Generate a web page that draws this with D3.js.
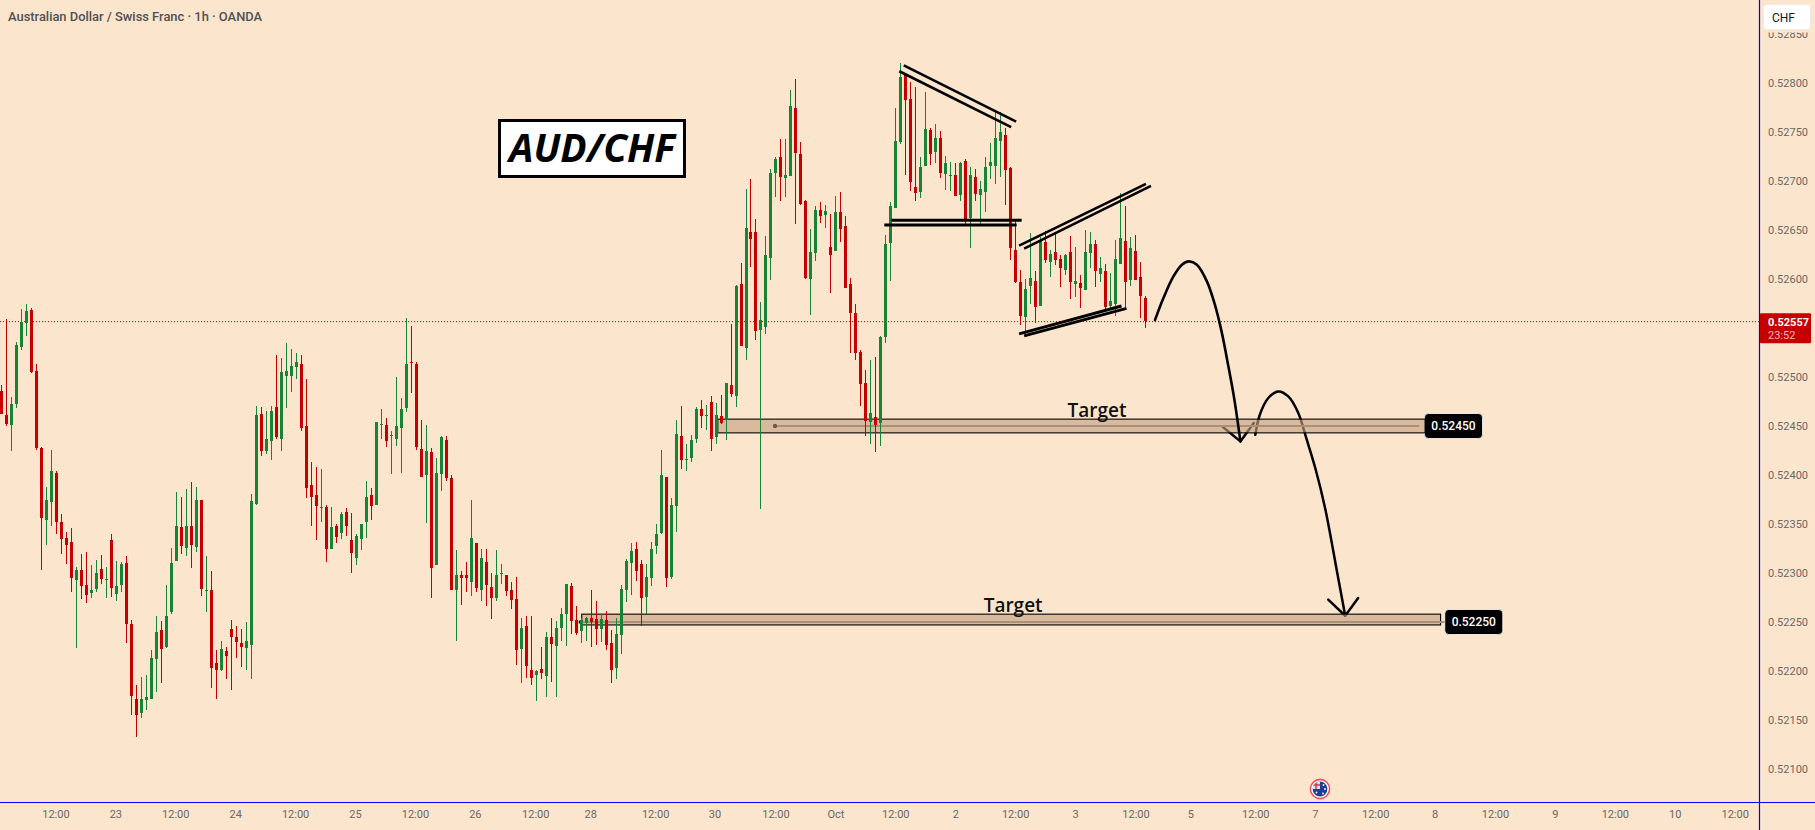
<!DOCTYPE html>
<html>
<head>
<meta charset="utf-8">
<title>AUD/CHF 1h</title>
<script src="https://cdn.jsdelivr.net/npm/d3@7/dist/d3.min.js"></script>
<style>
html,body{margin:0;padding:0;background:#fce5cd;overflow:hidden}
svg{display:block}
text{font-family:Roboto,"Liberation Sans",sans-serif}
</style>
</head>
<body>
<svg id="chart" width="1815" height="830"></svg>
<script>
// Hourly candles, prices in points (1 point = 0.00001 CHF)
const opens = [
52486,52461,52451,52472,52531,52555,52568,52506,52428,52354,
52372,52402,52352,52336,52332,52293,52303,52288,52280,52284,
52304,52293,52334,52279,52288,52310,52248,52171,52157,52170,
52171,52212,52242,52224,52260,52312,52347,52326,52348,52327,
52375,52282,52283,52208,52201,52220,52243,52235,52229,52223,
52227,52370,52462,52425,52435,52469,52437,52501,52501,52510,
52513,52450,52390,52380,52366,52367,52324,52348,52341,52362,
52334,52315,52335,52352,52380,52369,52451,52451,52440,52437,
52448,52468,52515,52513,52427,52400,52423,52308,52401,52436,
52397,52283,52298,52298,52291,52331,52283,52311,52286,52275,
52299,52298,52283,52273,52222,52246,52201,52196,52202,52195,
52235,52226,52244,52258,52287,52252,52241,52249,52254,52253,
52243,52252,52229,52203,52237,52283,52310,52325,52309,52276,
52295,52328,52341,52398,52296,52368,52440,52415,52417,52437,
52467,52460,52475,52439,52460,52456,52492,52481,52595,52530,
52648,52648,52548,52551,52621,52708,52724,52703,52705,52774,
52728,52680,52600,52627,52670,52665,52633,52629,52668,52654,
52595,52565,52526,52494,52454,52459,52453,52541,52637,52672,
52740,52808,52784,52694,52689,52715,52752,52730,52744,52707,
52705,52706,52686,52720,52662,52704,52686,52689,52715,52715,
52741,52747,52713,52630,52597,52561,52593,52598,52572,52638,
52617,52628,52620,52609,52628,52595,52596,52589,52627,52636,
52605,52608,52572,52575,52615,52639,52599,52629,52602,52581];
const highs = [
52492,52559,52480,52536,52569,52574,52570,52513,52429,52388,
52426,52404,52360,52342,52346,52306,52319,52321,52308,52313,
52318,52306,52340,52312,52311,52317,52252,52186,52194,52196,
52221,52256,52251,52288,52326,52383,52378,52386,52393,52388,
52375,52317,52302,52221,52231,52225,52252,52246,52243,52250,
52381,52470,52469,52465,52470,52522,52519,52535,52529,52524,
52522,52498,52413,52408,52406,52369,52367,52350,52362,52366,
52361,52340,52350,52394,52387,52454,52467,52458,52445,52500,
52479,52560,52552,52515,52456,52451,52428,52417,52440,52440,
52400,52323,52302,52311,52375,52331,52325,52324,52300,52323,
52309,52298,52291,52296,52254,52256,52256,52201,52224,52240,
52254,52251,52264,52289,52290,52266,52254,52255,52283,52271,
52258,52261,52242,52254,52288,52314,52331,52332,52313,52309,
52332,52350,52426,52398,52377,52456,52470,52432,52441,52469,
52477,52471,52481,52473,52482,52494,52554,52594,52616,52692,
52702,52661,52577,52644,52712,52724,52743,52743,52793,52804,
52740,52681,52651,52674,52679,52676,52666,52685,52689,52664,
52601,52574,52528,52507,52517,52520,52542,52645,52679,52774,
52820,52808,52801,52796,52724,52791,52754,52758,52751,52726,
52719,52718,52719,52722,52714,52712,52700,52724,52739,52772,
52770,52754,52714,52660,52609,52600,52647,52608,52643,52649,
52630,52647,52624,52626,52644,52633,52604,52650,52648,52640,
52622,52615,52606,52640,52688,52674,52643,52645,52617,52583];
const lows = [
52462,52450,52424,52468,52528,52542,52504,52426,52303,52329,
52348,52340,52319,52309,52281,52223,52273,52269,52275,52281,
52289,52275,52276,52271,52281,52229,52155,52133,52152,52160,
52171,52179,52188,52223,52258,52312,52319,52317,52305,52321,
52277,52260,52183,52171,52200,52192,52181,52213,52204,52201,
52192,52369,52419,52421,52415,52437,52425,52468,52485,52498,
52445,52377,52348,52334,52352,52311,52324,52331,52335,52338,
52300,52308,52323,52336,52354,52369,52437,52429,52401,52430,
52402,52464,52484,52426,52398,52351,52275,52308,52384,52394,
52283,52231,52267,52281,52277,52281,52271,52266,52253,52271,
52289,52277,52263,52206,52188,52193,52186,52169,52192,52173,
52189,52173,52231,52226,52238,52237,52229,52231,52224,52227,
52230,52221,52188,52192,52217,52270,52278,52292,52246,52258,
52287,52319,52340,52286,52294,52342,52406,52404,52413,52433,
52448,52446,52425,52432,52452,52436,52480,52469,52532,52517,
52612,52538,52365,52544,52599,52684,52680,52684,52705,52656,
52676,52600,52563,52618,52657,52652,52586,52629,52638,52591,
52524,52517,52470,52440,52432,52423,52430,52535,52598,52672,
52738,52706,52690,52680,52683,52715,52716,52718,52703,52691,
52690,52685,52680,52655,52632,52680,52656,52668,52702,52697,
52704,52676,52619,52596,52553,52542,52574,52555,52572,52616,
52602,52614,52592,52604,52580,52582,52570,52589,52611,52592,
52597,52569,52570,52562,52615,52571,52593,52599,52560,52550];
const closes = [
52462,52452,52472,52533,52556,52567,52505,52428,52356,52374,
52404,52352,52335,52329,52295,52303,52287,52278,52283,52300,
52294,52294,52285,52287,52309,52248,52174,52155,52171,52173,
52213,52240,52222,52256,52310,52348,52328,52348,52329,52375,
52284,52283,52203,52201,52222,52215,52235,52230,52224,52231,
52373,52461,52425,52437,52465,52439,52505,52506,52511,52515,
52448,52387,52378,52368,52367,52324,52347,52337,52360,52348,
52320,52338,52350,52378,52368,52454,52452,52435,52441,52450,
52467,52513,52514,52429,52398,52425,52305,52402,52439,52397,
52283,52298,52295,52295,52336,52285,52315,52288,52274,52298,
52300,52282,52272,52221,52244,52205,52193,52200,52198,52235,
52228,52244,52258,52289,52251,52239,52252,52254,52250,52243,
52253,52227,52201,52238,52284,52312,52322,52302,52274,52296,
52325,52340,52400,52295,52369,52442,52415,52416,52436,52467,
52460,52461,52437,52461,52453,52494,52483,52593,52532,52652,
52641,52547,52558,52624,52708,52722,52704,52706,52777,52729,
52677,52601,52628,52670,52664,52669,52624,52668,52651,52591,
52565,52525,52493,52455,52463,52451,52541,52636,52674,52741,
52806,52783,52699,52688,52714,52753,52728,52744,52708,52718,
52706,52685,52718,52660,52706,52687,52692,52714,52719,52744,
52750,52711,52632,52597,52562,52590,52601,52571,52640,52619,
52626,52619,52611,52625,52597,52598,52591,52628,52636,52608,
52611,52571,52578,52620,52642,52597,52632,52599,52583,52557];

// Price axis levels, in points; the level under the last-price tag is left out
const priceTicks = [52100,52150,52200,52250,52300,52350,52400,52450,52500,52600,52650,52700,52750,52800,52850];

// Time axis: bar position of each label, and its text
const timeTickBars = [10.7,22.7,34.7,46.7,58.7,70.7,82.7,94.7,106.8,117.8,130.8,142.7,154.9,166.9,178.9,190.9,202.9,214.9,227,238,251,262.9,275,286.9,299,311,323,335,347];
const timeTickLabels = ["12:00","23","12:00","24","12:00","25","12:00","26","12:00","28","12:00","30","12:00","Oct","12:00","2","12:00","3","12:00","5","12:00","7","12:00","8","12:00","9","12:00","10","12:00"];

// Target zones: level, zone bounds in points, first bar, last bar, caption bar
const targets = [
  {level:52450, top:52457, bottom:52443, from:143.35, to:285, captionBar:219.3},
  {level:52250, top:52258, bottom:52247, from:116.1, to:288.1, captionBar:202.5}
];
const targetLabel = "Target";

// Hand-drawn pattern lines, as [bar, price] pairs
const trendLines = [
  {w:2.6, pts:[[180.6,52818],[203.1,52760.5]]},
  {w:2.6, pts:[[179.7,52812],[202.1,52755]]},
  {w:3, pts:[[178.1,52660],[204.2,52660]]},
  {w:3, pts:[[176.7,52655],[203.2,52655]]},
  {w:2.6, pts:[[203.7,52634],[229.1,52697]]},
  {w:2.6, pts:[[204.7,52631],[230.1,52695]]},
  {w:3, pts:[[203.7,52544],[224.2,52572.5]]},
  {w:3, pts:[[204.7,52542],[225.2,52570]]}
];
// Projected path: first leg runs above the zone, the rest below it
const legOne = [[230.9,52558],[232.6,52580.6],[234.6,52602.6],[236.3,52614.6],[237.7,52618],[239.3,52614.6],[241.3,52597.6],[242.9,52573.8],[244.3,52545],[245.6,52511],[246.7,52480.2],[247.6,52449.6],[248,52434.3]];
const arrowOne = [[244.5,52449],[248,52434.3],[250.7,52453]];
const legTwo = [[251,52441],[251.9,52461.5],[253.6,52478.6],[255.6,52485.3],[257.6,52480.2],[259.6,52463.3],[261.3,52436],[263.1,52405.4],[265,52365.6],[267.4,52300.3],[269,52256.4]];
const arrowTwo = [[265.6,52272.8],[269,52256.4],[271.6,52274.5]];

const headerText = "Australian Dollar / Swiss Franc · 1h · OANDA";
const titleText = "AUD/CHF";
const unitText = "CHF";
const countdownText = "23:52";

const colors = {bg:"#fce5cd", up:"#158434", down:"#c60000", axis:"#0000ff", tick:"#6b6763"};

const svg = d3.select("#chart");
svg.append("rect").attr("width",1815).attr("height",830).attr("fill",colors.bg);

const x = d3.scaleLinear().domain([0,229]).range([1.995,1145.47]);
const y = d3.scaleLinear().domain([52500,52100]).range([377,769]);
const fmt = p => (p/1e5).toFixed(5);
const px = b => Math.floor(x(b));
const py = p => Math.round(y(p));
const lineGen = d3.line().x(d=>x(d[0])).y(d=>y(d[1]));
const curveGen = d3.line().x(d=>x(d[0])).y(d=>y(d[1])).curve(d3.curveCatmullRom.alpha(.5));
const lastClose = closes[closes.length-1];

// Last price line
svg.append("line").attr("x1",0).attr("x2",1759).attr("y1",y(lastClose)+.5).attr("y2",y(lastClose)+.5)
  .attr("stroke",colors.down).attr("stroke-width",1).attr("stroke-dasharray","1 2");

// Second leg of the path and arrowheads sit under the translucent zones
const strokeBlack = sel => sel.attr("fill","none").attr("stroke","#000").attr("stroke-linecap","round").attr("stroke-linejoin","round");
svg.append("path").attr("d",curveGen(legTwo)).attr("stroke-width",2.5).call(strokeBlack);
svg.append("path").attr("d",lineGen(arrowOne)).attr("stroke-width",2.5).call(strokeBlack);
svg.append("path").attr("d",lineGen(arrowTwo)).attr("stroke-width",2.5).call(strokeBlack);

// Level tags go below the zones so the first zone's end tints its tag
const tag = (cx0, level, w) => {
  const g = svg.append("g");
  g.append("rect").attr("x",cx0).attr("y",y(level)-12.5).attr("width",w).attr("height",25).attr("rx",4)
    .attr("fill","#000").attr("stroke","#fff").attr("stroke-width",.8);
  g.append("text").attr("x",cx0+w/2).attr("y",y(level)+4.2).attr("text-anchor","middle")
    .attr("fill","#fff").attr("font-size",12).attr("font-weight",500).text(fmt(level));
};
tag(x(targets[0].to)-.6, targets[0].level, 58);
tag(x(targets[1].to)+4.2, targets[1].level, 58);

// Zones
svg.append("g").selectAll("rect").data(targets).join("rect")
  .attr("x",d=>x(d.from)).attr("width",d=>x(d.to)-x(d.from))
  .attr("y",d=>y(d.top)).attr("height",d=>y(d.bottom)-y(d.top))
  .attr("fill","rgba(197,160,127,.62)").attr("stroke","#000").attr("stroke-width",1.1);

// Zone centre lines with their handles
svg.append("line").attr("x1",776).attr("x2",x(targets[0].to)-6).attr("y1",y(targets[0].level)).attr("y2",y(targets[0].level))
  .attr("stroke","#a8917a").attr("stroke-width",2);
svg.append("circle").attr("cx",775).attr("cy",y(targets[0].level)).attr("r",2.2).attr("fill","#6d5a49");
svg.append("line").attr("x1",x(targets[1].from)).attr("x2",x(targets[1].to)+4).attr("y1",y(targets[1].level)).attr("y2",y(targets[1].level))
  .attr("stroke","#a8917a").attr("stroke-width",2);
svg.append("rect").attr("x",x(targets[1].from)-3).attr("y",y(targets[1].level)-1.5).attr("width",3).attr("height",3).attr("fill","#111");

// Candles
const bars = d3.range(closes.length);
const colorOf = i => closes[i] >= opens[i] ? colors.up : colors.down;
const candles = svg.append("g").attr("shape-rendering","crispEdges");
candles.selectAll("rect.wick").data(bars).join("rect").attr("class","wick")
  .attr("x",i=>px(i)).attr("width",1)
  .attr("y",i=>py(highs[i])).attr("height",i=>Math.max(1,py(lows[i])-py(highs[i])))
  .attr("fill",colorOf);
candles.selectAll("rect.body").data(bars).join("rect").attr("class","body")
  .attr("x",i=>px(i)-1).attr("width",3)
  .attr("y",i=>py(Math.max(opens[i],closes[i])))
  .attr("height",i=>Math.max(1,py(Math.min(opens[i],closes[i]))-py(Math.max(opens[i],closes[i]))))
  .attr("fill",colorOf);

// Pattern lines and first leg
svg.append("g").selectAll("path").data(trendLines).join("path")
  .attr("d",d=>lineGen(d.pts)).attr("stroke-width",d=>d.w).call(strokeBlack).attr("stroke-linecap","butt");
svg.append("path").attr("d",curveGen(legOne)).attr("stroke-width",2.6).call(strokeBlack);

// Target captions
svg.append("g").selectAll("text").data(targets).join("text")
  .attr("x",d=>x(d.captionBar)).attr("y",d=>y(d.top)-2)
  .attr("text-anchor","middle").attr("fill","#111")
  .style("font-family","'Open Sans',sans-serif").attr("font-size",19).attr("font-weight",600).text(targetLabel);

// Title box
svg.append("rect").attr("x",499.5).attr("y",120.5).attr("width",185).attr("height",56)
  .attr("fill","#fff").attr("stroke","#000").attr("stroke-width",3);
svg.append("text").attr("x",592).attr("y",162).attr("text-anchor","middle").attr("fill","#000")
  .style("font-family","'Open Sans',sans-serif").attr("font-size",39).attr("font-weight",700).attr("font-style","italic").text(titleText);

// Header
svg.append("text").attr("x",8).attr("y",20.5).attr("fill","#505054").attr("font-size",12.9).attr("font-weight",500).text(headerText);

// Axes
const yAxis = d3.axisRight(y).tickValues(priceTicks).tickFormat(fmt).tickSize(0).tickPadding(0);
const yG = svg.append("g").attr("transform","translate(1768,0)").call(yAxis);
yG.select(".domain").remove();
yG.selectAll("text").attr("fill",colors.tick).attr("font-size",11).style("font-family","Roboto,sans-serif");

const xAxis = d3.axisBottom(x).tickValues(timeTickBars).tickFormat((d,i)=>timeTickLabels[i]).tickSize(0).tickPadding(0);
const xG = svg.append("g").attr("transform","translate(0,810)").call(xAxis);
xG.select(".domain").remove();
xG.selectAll("text").attr("fill",colors.tick).attr("font-size",11).style("font-family","Roboto,sans-serif");

svg.append("line").attr("x1",1759.5).attr("x2",1759.5).attr("y1",0).attr("y2",830).attr("stroke",colors.axis).attr("stroke-width",1.2);
svg.append("line").attr("x1",0).attr("x2",1815).attr("y1",802.5).attr("y2",802.5).attr("stroke",colors.axis).attr("stroke-width",1.2);

// Unit button, with a margin that trims the topmost price label
svg.append("rect").attr("x",1761).attr("y",0).attr("width",53).attr("height",32.5).attr("fill",colors.bg);
svg.append("rect").attr("x",1763.5).attr("y",4.5).attr("width",47).attr("height",25).attr("rx",3)
  .attr("fill","#fff").attr("stroke","#f0ece8");
svg.append("text").attr("x",1772).attr("y",21.5).attr("fill","#131722").attr("font-size",12).text(unitText);

// Last price tag with countdown
svg.append("rect").attr("x",1760).attr("y",y(lastClose)-8).attr("width",51).attr("height",30).attr("rx",1).attr("fill","#c40000");
svg.append("text").attr("x",1768).attr("y",y(lastClose)+5).attr("fill","#fff").attr("font-size",11).attr("font-weight",700).text(fmt(lastClose));
svg.append("text").attr("x",1768).attr("y",y(lastClose)+18).attr("fill","#f6b5b5").attr("font-size",11).text(countdownText);

// Economic event marker with a small Australian flag
const flag = svg.append("g").attr("transform","translate(1320,789)");
flag.append("circle").attr("r",9.6).attr("fill","#fff").attr("stroke","#f0525f").attr("stroke-width",1.6);
flag.append("clipPath").attr("id","flagClip").append("circle").attr("r",7.4);
const fg = flag.append("g").attr("clip-path","url(#flagClip)");
fg.append("rect").attr("x",-8).attr("y",-8).attr("width",16).attr("height",16).attr("fill","#1c3f94");
fg.append("rect").attr("x",-8).attr("y",-8).attr("width",8).attr("height",8).attr("fill","#e8dde6");
fg.append("path").attr("d","M-8,-4H0M-4,-8V0").attr("stroke","#d8303f").attr("stroke-width",1.4);
fg.selectAll("circle.star").data([[-3.5,3.5],[3.5,-4],[5,0],[3,4.5]]).join("circle").attr("class","star")
  .attr("cx",d=>d[0]).attr("cy",d=>d[1]).attr("r",.9).attr("fill","#fff");
</script>
</body>
</html>
